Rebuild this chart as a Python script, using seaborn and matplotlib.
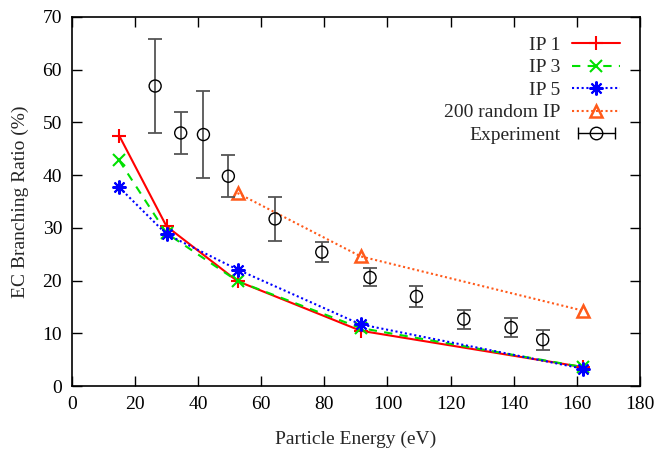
import numpy as np
import pandas as pd
import matplotlib
matplotlib.use("Agg")
import matplotlib.pyplot as plt
import seaborn as sns
from matplotlib.lines import Line2D
from matplotlib.legend_handler import HandlerLine2D, HandlerTuple

# ---- data ----
sim_energy = [15, 30, 52.5, 91.5, 162]
ip1 = [47.5, 30.3, 19.9, 10.5, 3.6]
ip3 = [42.8, 29.0, 19.9, 11.0, 3.6]
ip5 = [37.7, 28.8, 22.1, 11.7, 3.3]

rand_energy = [52.5, 91.5, 162]
rand_ip = [36.6, 24.6, 14.3]

exp_energy = [26.4, 34.5, 41.7, 49.6, 64.4, 79.2, 94.5, 109.2, 124.2, 139.2, 149.2]
exp_ratio = [56.9, 48.0, 47.7, 39.8, 31.7, 25.4, 20.6, 17.0, 12.7, 11.1, 8.8]
exp_err = [9.0, 4.0, 8.2, 4.0, 4.1, 1.9, 1.7, 2.0, 1.8, 1.8, 1.9]

x_ticks = [0, 20, 40, 60, 80, 100, 120, 140, 160, 180]
y_ticks = [0, 10, 20, 30, 40, 50, 60, 70]

sns.set_theme(style="ticks")
plt.rcParams['font.family'] = ['Liberation Serif', 'DejaVu Serif']

FS = 14

fig = plt.figure(figsize=(6.59, 4.58), dpi=100)
ax = fig.add_axes([0.109, 0.157, 0.862, 0.806])

red = '#ff0000'
green = '#00e000'
blue = '#0000ff'
orange = '#ff5a1a'

sns.lineplot(x=sim_energy, y=ip1, ax=ax, color=red, lw=1.5,
             marker='+', markersize=10, markeredgewidth=1.5,
             markeredgecolor=red, label='IP 1')
sns.lineplot(x=sim_energy, y=ip3, ax=ax, color=green, lw=1.5,
             dashes=(4, 3.5), marker='x', markersize=8, markeredgewidth=1.5,
             markeredgecolor=green, label='IP 3')
sns.lineplot(x=sim_energy, y=ip5, ax=ax, color=blue, lw=1.5,
             dashes=(1, 1.3), marker=(8, 2, 0), markersize=10,
             markeredgewidth=1.5, markeredgecolor=blue, label='IP 5')
sns.lineplot(x=rand_energy, y=rand_ip, ax=ax, color=orange, lw=1.5,
             dashes=(1, 1.3), marker='^', markersize=8, markerfacecolor='none',
             markeredgecolor=orange, markeredgewidth=1.8, label='200 random IP')

ax.errorbar(exp_energy, exp_ratio, yerr=exp_err, fmt='none', ecolor='#555555',
            elinewidth=1.3, capsize=5, capthick=1.3, zorder=3)
sns.scatterplot(x=exp_energy, y=exp_ratio, ax=ax, marker='o', s=75,
                facecolor='none', edgecolor='black', linewidth=1.0, zorder=4)

ax.set_xlim(0, 180)
ax.set_ylim(0, 70)
ax.set_xticks(x_ticks)
ax.set_yticks(y_ticks)
ax.tick_params(direction='in', length=7, width=1, top=True, right=True,
               labelsize=FS, colors='black', pad=7)
for s in ax.spines.values():
    s.set_linewidth(1.2)
    s.set_color('black')
ax.set_xlabel('Particle Energy (eV)', fontsize=FS, labelpad=13)
ax.set_ylabel('EC Branching Ratio (%)', fontsize=FS, labelpad=10)

# legend
handles, labels = ax.get_legend_handles_labels()
handles = handles[:4]
labels = labels[:4]
cap_line = Line2D([0], [0], color='black', lw=1.0, marker='|', markersize=9,
                  markeredgewidth=1.0)
circ = Line2D([0], [0], color='none', marker='o', markersize=9,
              markerfacecolor='none', markeredgecolor='black',
              markeredgewidth=1.0)
handles.append((cap_line, circ))
labels.append('Experiment')
leg = ax.legend(handles, labels, loc='upper right', frameon=False,
                markerfirst=False, fontsize=FS, handlelength=2.5,
                labelspacing=0.25, borderaxespad=0.6, handletextpad=0.6,
                handler_map={cap_line: HandlerLine2D(numpoints=2),
                             tuple: HandlerTuple(ndivide=1, pad=0)})

fig.savefig('out.png', dpi=100)
